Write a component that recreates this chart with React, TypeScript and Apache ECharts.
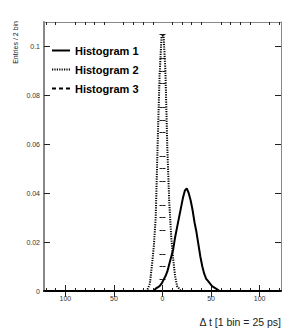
import React, { useEffect, useRef } from "react";
import * as echarts from "echarts";

// Histogram 1 (solid): bin centres (bin width 2) and entries / 2 bin
const h1Centers = [-121, -9, -7, -5, -3, -1, 1, 3, 5, 7, 9, 11, 13, 15, 17, 19, 21, 23, 25, 27, 29, 31, 33, 35, 37, 39, 41, 43, 45, 47, 49, 51, 53, 55, 57, 59, 121];
const h1Values = [0, 0, 0.001, 0.0015, 0.002, 0.003, 0.0045, 0.006, 0.008, 0.011, 0.014, 0.017, 0.022, 0.026, 0.03, 0.034, 0.038, 0.041, 0.042, 0.04, 0.037, 0.033, 0.028, 0.024, 0.019, 0.014, 0.01, 0.007, 0.005, 0.004, 0.003, 0.002, 0.0015, 0.001, 0.0005, 0, 0];

// Histogram 2 (dotted)
const h2Centers = [-121, -17, -15, -13, -11, -9, -7, -5, -3, -1, 1, 3, 5, 7, 9, 11, 13, 15, 17, 19, 121];
const h2Values = [0, 0, 0.001, 0.003, 0.01, 0.018, 0.03, 0.06, 0.088, 0.104, 0.105, 0.09, 0.058, 0.036, 0.022, 0.013, 0.006, 0.002, 0.001, 0, 0];

// Histogram 3 (dashed)
const h3Centers = [-121, 121];
const h3Values = [0, 0];

// Axis ticks / labels
const xMajorTicks = [-100, -50, 0, 50, 100];
const xMinorTicks = [-120, -110, -90, -80, -70, -60, -40, -30, -20, -10, 10, 20, 30, 40, 60, 70, 80, 90, 110, 120];
const yMajorTicks = [0, 0.02, 0.04, 0.06, 0.08, 0.1];
const yMinorTicks = [0.005, 0.01, 0.015, 0.025, 0.03, 0.035, 0.045, 0.05, 0.055, 0.065, 0.07, 0.075, 0.085, 0.09, 0.095, 0.105];

const FONT = "'Liberation Sans', Arial, Helvetica, sans-serif";

function pairs(xs: number[], ys: number[]) {
  return xs.map((x, i) => [x, ys[i]]);
}

export default function App() {
  const ref = useRef<HTMLDivElement>(null);
  useEffect(() => {
    document.body.style.margin = "0";
    if (!ref.current) return;
    const chart = echarts.init(ref.current, null, { renderer: "svg" });
    const xRange = { min: -122, max: 122 };
    const yRange = { min: 0, max: 0.11 };
    const tickColor = "#222";
    const xAxisBase = (pos: string, major: boolean, line: any) => ({
      type: "value",
      position: pos,
      ...xRange,
      axisLine: line ? { show: true, onZero: false, lineStyle: line } : { show: false },
      axisTick: {
        show: true,
        inside: true,
        length: major ? 6 : 3,
        customValues: major ? xMajorTicks : xMinorTicks,
        lineStyle: { color: tickColor, width: 1 },
      },
      axisLabel: { show: false },
      splitLine: { show: false },
    });
    const yAxisBase = (pos: string, major: boolean, line: any) => ({
      type: "value",
      position: pos,
      ...yRange,
      axisLine: line ? { show: true, onZero: false, lineStyle: line } : { show: false },
      axisTick: {
        show: true,
        inside: true,
        length: major ? 6 : 3,
        customValues: major ? yMajorTicks : yMinorTicks,
        lineStyle: { color: tickColor, width: 1 },
      },
      axisLabel: { show: false },
      splitLine: { show: false },
    });

    const x0: any = xAxisBase("bottom", false, { color: "#000", width: 2 });
    x0.axisLabel = {
      show: true,
      customValues: xMajorTicks,
      formatter: (v: number) => String(Math.abs(v)),
      fontSize: 7,
      color: "#333",
      fontFamily: FONT,
      margin: 4,
    };
    const y0: any = yAxisBase("left", true, { color: "#888", width: 2 });
    y0.axisLabel = {
      show: true,
      customValues: yMajorTicks,
      formatter: (v: number) => String(+v.toFixed(3)),
      fontSize: 7,
      color: "#333",
      fontFamily: FONT,
      margin: 4,
    };

    chart.setOption({
      animation: false,
      backgroundColor: "#fff",
      grid: { left: 44, right: 20, top: 22, bottom: 45, containLabel: false },
      xAxis: [
        x0,
        xAxisBase("bottom", true, null),
        xAxisBase("top", false, { color: "#888", width: 1 }),
        xAxisBase("top", true, null),
      ],
      yAxis: [
        y0,
        yAxisBase("left", false, null),
        yAxisBase("right", true, { color: "#888", width: 1 }),
        yAxisBase("right", false, null),
      ],
      legend: {
        orient: "vertical",
        left: 51,
        top: 45,
        padding: 0,
        itemWidth: 18,
        itemHeight: 10,
        itemGap: 8,
        itemStyle: { opacity: 0 },
        textStyle: { fontSize: 11, fontWeight: "bold", color: "#000", fontFamily: FONT },
        data: ["Histogram 1", "Histogram 2", "Histogram 3"],
      },
      graphic: [
        {
          type: "text",
          x: 15,
          y: 21,
          rotation: Math.PI / 2,
          style: {
            text: "Entries / 2 bin",
            fontSize: 7,
            fill: "#222",
            fontFamily: FONT,
            align: "right",
            verticalAlign: "middle",
          },
        },
        {
          type: "text",
          x: 281,
          y: 322,
          style: {
            text: "Δ t [1 bin = 25 ps]",
            fontSize: 10.5,
            fill: "#222",
            fontFamily: FONT,
            align: "right",
            verticalAlign: "middle",
          },
        },
      ],
      series: [
        {
          name: "Histogram 1",
          type: "line",
          symbol: "none",
          xAxisIndex: 0,
          yAxisIndex: 0,
          data: pairs(h1Centers, h1Values),
          lineStyle: { color: "#000", width: 2, type: "solid" },
          itemStyle: { color: "#000" },
        },
        {
          name: "Histogram 2",
          type: "line",
          symbol: "none",
          xAxisIndex: 0,
          yAxisIndex: 0,
          data: pairs(h2Centers, h2Values),
          lineStyle: { color: "#000", width: 2, type: [1.2, 1.2] },
          itemStyle: { color: "#000" },
        },
        {
          name: "Histogram 3",
          type: "line",
          symbol: "none",
          xAxisIndex: 0,
          yAxisIndex: 0,
          data: pairs(h3Centers, h3Values),
          lineStyle: { color: "#000", width: 2, type: [4, 3] },
          itemStyle: { color: "#000" },
        },
      ],
    });
    return () => chart.dispose();
  }, []);
  return <div ref={ref} style={{ width: 301, height: 336 }} />;
}
